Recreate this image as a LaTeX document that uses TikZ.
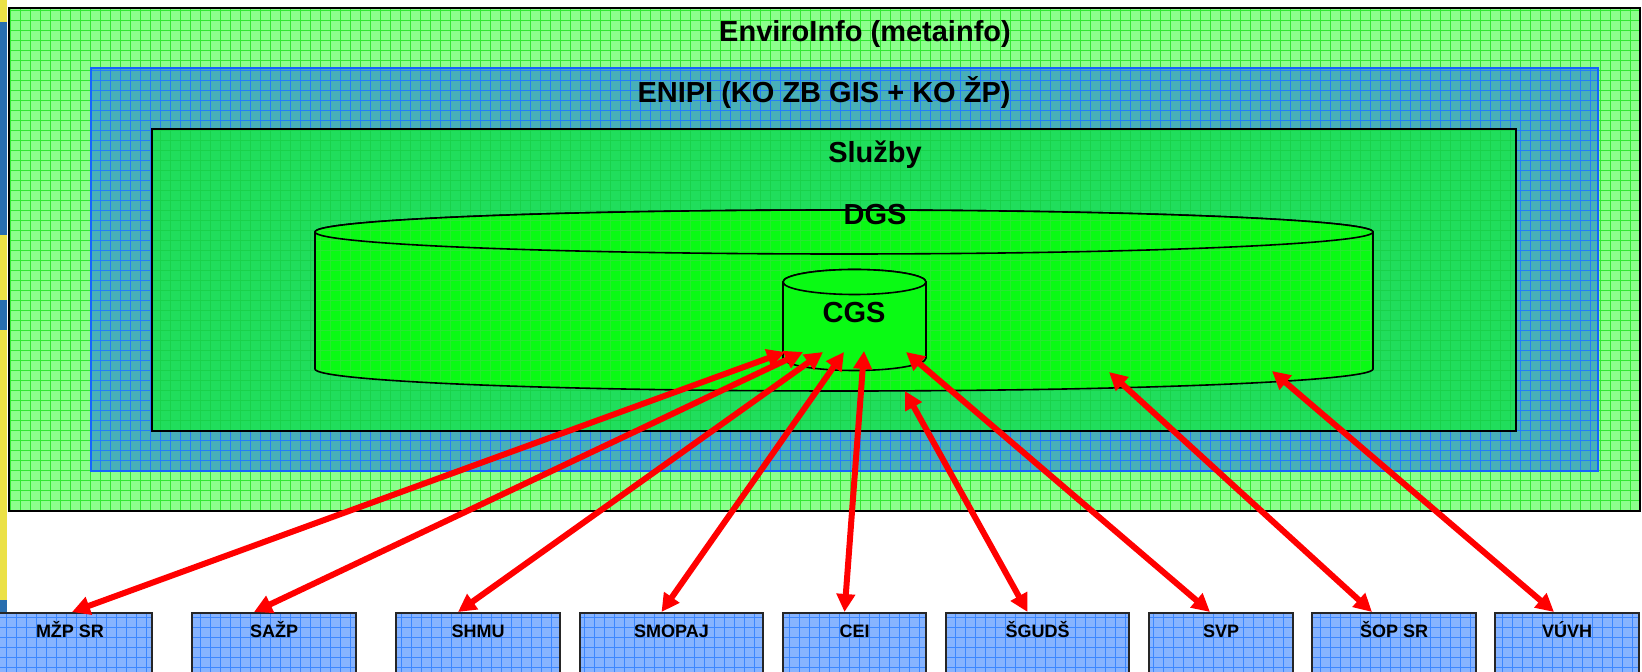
\documentclass[tikz,border=0pt]{standalone}
\usepackage{fontspec}
\setmainfont{Liberation Sans}
\usetikzlibrary{arrows.meta}
\definecolor{envgreen}{RGB}{140,255,140}
\definecolor{envgrid}{RGB}{50,232,50}
\definecolor{enipiblue}{RGB}{72,176,184}
\definecolor{enipigrid}{RGB}{35,125,250}
\definecolor{enipiline}{RGB}{20,100,255}
\definecolor{sluzbygreen}{RGB}{32,222,92}
\definecolor{sluzbygrid}{RGB}{25,210,75}
\definecolor{dgsgreen}{RGB}{10,250,20}
\definecolor{dgsgrid}{RGB}{40,232,50}
\definecolor{orgblue}{RGB}{135,180,255}
\definecolor{orggrid}{RGB}{60,135,255}
\definecolor{stripyellow}{RGB}{235,225,70}
\definecolor{stripblue}{RGB}{40,110,175}

\begin{document}
    \begin{tikzpicture}[x=0.5pt, y=-0.5pt,
        gridfill/.style={path picture={\draw[#1, line width=0.4pt, step=5pt] (path picture bounding box.south west) grid (path picture bounding box.north east);}},
        boxline/.style={line width=0.8pt},
        title/.style={font=\bfseries\fontsize{14.5}{16}\selectfont, anchor=base},
        org/.style={draw=black!85, line width=0.8pt, fill=orgblue, gridfill=orggrid, anchor=north, inner sep=0pt, text height=12.5pt, text depth=40pt, font=\bfseries\fontsize{9}{10}\selectfont},
        link/.style={red, line width=3pt, {Triangle[length=9pt,width=9pt]}-{Triangle[length=9pt,width=9pt]}}]
        \useasboundingbox (0,0) rectangle (1642,672);
        \fill[white] (0,0) rectangle (1642,672);
        \fill[stripyellow] (0,0) rectangle (7,672);
        \fill[stripblue] (0,22) rectangle (7,235);
        \fill[stripblue] (0,300) rectangle (7,330);
        \fill[stripblue] (0,600) rectangle (7,672);
        \draw[boxline, fill=envgreen, gridfill=envgrid] (9,8) rectangle (1640,511);
        \draw[boxline, draw=enipiline, fill=enipiblue, gridfill=enipigrid] (91,68) rectangle (1598,471);
        \draw[boxline, fill=sluzbygreen, gridfill=sluzbygrid] (152,129) rectangle (1516,431);
        \node[title] (env) at (865,42) {EnviroInfo (metainfo)};
        \node[title] (enipi) at (824,103) {ENIPI (KO ZB GIS + KO ŽP)};
        \node[title] (sluzby) at (875,163) {Služby};
        \draw[boxline, fill=dgsgreen, gridfill=dgsgrid] (315,232) -- (315,369) arc[start angle=180, end angle=0, x radius=529, y radius=22] -- (1373,232) arc[start angle=0, end angle=-180, x radius=529, y radius=22] -- cycle;
        \draw[boxline, fill=dgsgreen, gridfill=dgsgrid] (844,232) ellipse [x radius=529, y radius=22];
        \node[title] (dgs) at (875,225) {DGS};
        \draw[boxline, fill=dgsgreen] (783,282) -- (783,358) arc[start angle=180, end angle=0, x radius=71.5, y radius=12.5] -- (926,282) arc[start angle=0, end angle=-180, x radius=71.5, y radius=12.5] -- cycle;
        \draw[boxline, fill=dgsgreen] (854.5,282) ellipse [x radius=71.5, y radius=12.5];
        \node[title] (cgs) at (854,323) {CGS};
        \coordinate (tmzp) at (785,352);
        \coordinate (tsazp) at (803,352);
        \coordinate (tshmu) at (823,352);
        \coordinate (tsmopaj) at (844,352);
        \coordinate (tcei) at (864,351);
        \coordinate (tsguds) at (905,391);
        \coordinate (tsvp) at (906,352);
        \coordinate (tsop) at (1109,372);
        \coordinate (tvuvh) at (1272,371);
        \node[org, minimum width=82pt] (mzp) at (70,612) {MŽP SR};
        \node[org, minimum width=82pt] (sazp) at (274,612) {SAŽP};
        \node[org, minimum width=82pt] (shmu) at (478,612) {SHMU};
        \node[org, minimum width=91.5pt] (smopaj) at (671.5,612) {SMOPAJ};
        \node[org, minimum width=71.5pt] (cei) at (854.5,612) {CEI};
        \node[org, minimum width=91.5pt] (sguds) at (1037.5,612) {ŠGUDŠ};
        \node[org, minimum width=72pt] (svp) at (1221,612) {SVP};
        \node[org, minimum width=82pt] (sop) at (1394,612) {ŠOP SR};
        \node[org, minimum width=72pt] (vuvh) at (1567,612) {VÚVH};
        \draw[link] (tmzp) -- ([xshift=1pt]mzp.north);
        \draw[link] (tsazp) -- ([xshift=-10pt]sazp.north);
        \draw[link] (tshmu) -- ([xshift=-10pt]shmu.north);
        \draw[link] (tsmopaj) -- ([xshift=-5pt]smopaj.north);
        \draw[link] (tcei) -- ([xshift=-5pt]cei.north);
        \draw[link] (tsguds) -- ([xshift=-5pt]sguds.north);
        \draw[link] (tsvp) -- ([xshift=-5.5pt]svp.north);
        \draw[link] (tsop) -- ([xshift=-11pt]sop.north);
        \draw[link] (tvuvh) -- ([xshift=-6.5pt]vuvh.north);
    \end{tikzpicture}
\end{document}
